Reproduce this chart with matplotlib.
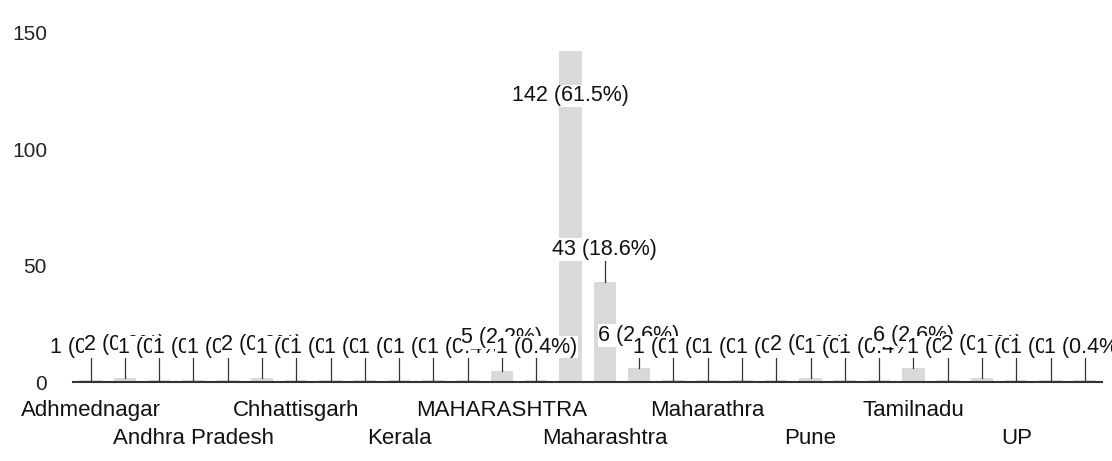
import matplotlib.pyplot as plt
import matplotlib.transforms as mtransforms

plt.rcParams['font.family'] = ['Liberation Sans', 'DejaVu Sans']

# Places (alphabetical, as in the source) and counts
places = ["Adhmednagar", "Ahmednagar", "Akola", "Andhra Pradesh", "Assam",
          "Bihar", "Chhattisgarh", "Delhi", "Gujarat", "Kerala",
          "Kolhapur", "Latur", "MAHARASHTRA", "Madhya Pradesh", "Maharashra",
          "Maharashtra", "Maharashtra State", "Maharastra", "Maharathra", "Mumbai",
          "Nagpur", "Pune", "Rajasthan", "Satara", "Tamilnadu",
          "Telangana", "Thane", "UP", "Uttarakhand", "West Bengal"]
counts = [1, 2, 1, 1, 1, 2, 1, 1, 1, 1,
          1, 1, 5, 1, 142, 43, 6, 1, 1, 1,
          1, 2, 1, 1, 6, 1, 2, 1, 1, 1]
y_ticks = [0, 50, 100, 150]

total = sum(counts)
x = list(range(len(places)))

fig = plt.figure(figsize=(11.12, 4.61), dpi=100)
ax = fig.add_axes([0.066, 0.171, 0.925, 0.768])

ax.bar(x, counts, width=0.65, color="#d9d9d9", zorder=1)

ax.set_xlim(-0.5, len(places) - 0.5)
ax.set_ylim(0, 152)

# value labels with leader lines, each one drawn over the previous
for i, v in enumerate(counts):
    ly = v + 14
    if ly > 140:
        ly = v - 19
    else:
        ax.plot([i, i], [v, ly], color="#333333", lw=0.9, zorder=2)
    ax.text(i, ly, f"{v} ({100 * v / total:.1f}%)", ha='center', va='center',
            fontsize=15.5, color="#111111", zorder=3 + i,
            bbox=dict(facecolor='white', edgecolor='none', pad=0.5))

# category labels: every third one, in two staggered rows
trans = mtransforms.blended_transform_factory(ax.transData, ax.transAxes)
for k, i in enumerate(range(0, len(places), 3)):
    yrow = -0.079 if k % 2 == 0 else -0.158
    ax.text(i, yrow, places[i], ha='center', va='center', fontsize=16,
            color="#111111", transform=trans)

ax.set_xticks([])
ax.set_yticks(y_ticks)
ax.tick_params(axis='y', length=0, pad=19, labelsize=15, labelcolor="#222222")
for s in ['top', 'right', 'left']:
    ax.spines[s].set_visible(False)
ax.spines['bottom'].set_color("#333333")
ax.spines['bottom'].set_linewidth(1.5)

plt.savefig('out.png', dpi=100)
